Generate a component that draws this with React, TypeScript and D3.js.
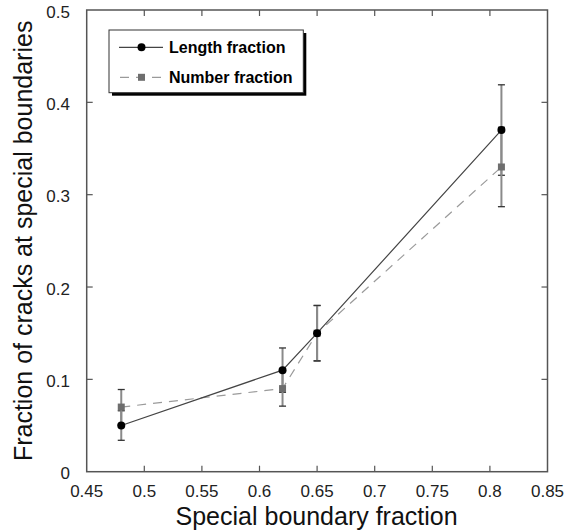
import React from "react";
import * as d3 from "d3";

const xValues = [0.48, 0.62, 0.65, 0.81];
const lengthFraction = [0.05, 0.11, 0.15, 0.37];
const lengthError = [0.016, 0.024, 0.03, 0.049];
const numberFraction = [0.07, 0.09, 0.15, 0.33];
const numberError = [0.019, 0.019, 0.03, 0.043];
const xTicks = [0.45, 0.5, 0.55, 0.6, 0.65, 0.7, 0.75, 0.8, 0.85];
const yTicks = [0, 0.1, 0.2, 0.3, 0.4, 0.5];
const seriesNames = ["Length fraction", "Number fraction"];

const W = 581;
const H = 532;
const L = 86.7, R = 547.5, T = 10, B = 471.7;
const FONT = "'Liberation Sans', Arial, sans-serif";

export default function App() {
  const x = d3.scaleLinear().domain([0.45, 0.85]).range([L, R]);
  const y = d3.scaleLinear().domain([0, 0.5]).range([B, T]);
  const line = d3
    .line<[number, number]>()
    .x((d) => x(d[0]))
    .y((d) => y(d[1]));
  const lenPts = xValues.map((v, i) => [v, lengthFraction[i]] as [number, number]);
  const numPts = xValues.map((v, i) => [v, numberFraction[i]] as [number, number]);
  const fmt = (v: number) => (v === 0 ? "0" : String(v));
  const axisColor = "#555";
  const tickLen = 6;

  const errBar = (vx: number, v: number, e: number, key: string) => (
    <g key={key}>
      <line x1={x(vx)} x2={x(vx)} y1={y(v - e)} y2={y(v + e)} stroke="#8a8a8a" strokeWidth={2} />
      <line x1={x(vx) - 3.5} x2={x(vx) + 3.5} y1={y(v - e)} y2={y(v - e)} stroke="#333" strokeWidth={1.3} />
      <line x1={x(vx) - 3.5} x2={x(vx) + 3.5} y1={y(v + e)} y2={y(v + e)} stroke="#333" strokeWidth={1.3} />
    </g>
  );

  return (
    <svg
      width={W}
      height={H}
      style={{ position: "absolute", left: 0, top: 0, background: "#fff" }}
      fontFamily={FONT}
    >
      <rect x={0} y={0} width={W} height={H} fill="#fff" />
      {/* ticks */}
      {xTicks.slice(1, -1).map((t) => (
        <g key={"xt" + t}>
          <line x1={x(t)} x2={x(t)} y1={B} y2={B - tickLen} stroke={axisColor} strokeWidth={1.2} />
          <line x1={x(t)} x2={x(t)} y1={T} y2={T + tickLen} stroke={axisColor} strokeWidth={1.2} />
        </g>
      ))}
      {yTicks.slice(1, -1).map((t) => (
        <g key={"yt" + t}>
          <line x1={L} x2={L + tickLen} y1={y(t)} y2={y(t)} stroke={axisColor} strokeWidth={1.2} />
          <line x1={R} x2={R - tickLen} y1={y(t)} y2={y(t)} stroke={axisColor} strokeWidth={1.2} />
        </g>
      ))}
      <rect x={L} y={T} width={R - L} height={B - T} fill="none" stroke={axisColor} strokeWidth={1.5} />
      {/* tick labels */}
      {xTicks.map((t) => (
        <text key={"xl" + t} x={x(t)} y={497} textAnchor="middle" fontSize={17} fill="#222">
          {fmt(t)}
        </text>
      ))}
      {yTicks.map((t) => (
        <text key={"yl" + t} x={70} y={y(t) + 7.5} textAnchor="end" fontSize={17} fill="#222">
          {fmt(t)}
        </text>
      ))}
      {/* axis titles */}
      <text x={(L + R) / 2 - 0.5} y={525} textAnchor="middle" fontSize={25} fill="#111">
        Special boundary fraction
      </text>
      <text
        transform={`translate(32, ${(T + B) / 2}) rotate(-90)`}
        textAnchor="middle"
        fontSize={25}
        fill="#111"
      >
        Fraction of cracks at special boundaries
      </text>
      {/* error bars */}
      {xValues.map((v, i) => errBar(v, lengthFraction[i], lengthError[i], "le" + i))}
      {xValues.map((v, i) => errBar(v, numberFraction[i], numberError[i], "ne" + i))}
      {/* lines */}
      <path d={line(numPts) || ""} fill="none" stroke="#9a9a9a" strokeWidth={1.2} strokeDasharray="9,7" />
      <path d={line(lenPts) || ""} fill="none" stroke="#444" strokeWidth={1.2} />
      {/* markers */}
      {numPts.map((p, i) => (
        <rect key={"ns" + i} x={x(p[0]) - 3.5} y={y(p[1]) - 3.5} width={7} height={7} fill="#6e6e6e" />
      ))}
      {lenPts.map((p, i) => (
        <circle key={"lc" + i} cx={x(p[0])} cy={y(p[1])} r={4} fill="#000" />
      ))}
      {/* legend */}
      <rect x={112} y={33} width={194.3} height={62.7} fill="#000" />
      <rect x={109} y={30} width={194.3} height={62.7} fill="#fff" stroke="#333" strokeWidth={1} />
      <line x1={119} x2={163} y1={47.3} y2={47.3} stroke="#444" strokeWidth={1.2} />
      <circle cx={141.5} cy={47.3} r={4} fill="#000" />
      <line x1={120} x2={163} y1={77.3} y2={77.3} stroke="#9a9a9a" strokeWidth={1.2} strokeDasharray="9,7" />
      <rect x={138} y={73.8} width={7} height={7} fill="#6e6e6e" />
      <text x={169} y={53} fontSize={16} fontWeight="bold" fill="#000">
        {seriesNames[0]}
      </text>
      <text x={169} y={83} fontSize={16} fontWeight="bold" fill="#000">
        {seriesNames[1]}
      </text>
    </svg>
  );
}
